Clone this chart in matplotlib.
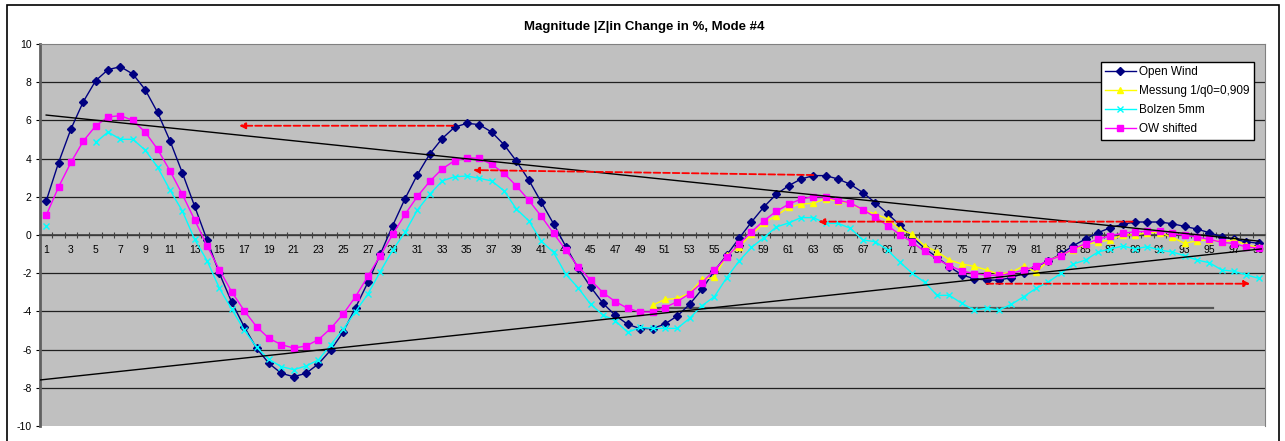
import numpy as np
import matplotlib.pyplot as plt
from matplotlib.patches import Rectangle

plt.rcParams['font.family'] = ['Liberation Sans', 'DejaVu Sans']
plt.rcParams['axes.unicode_minus'] = False

# Measurement points 1..99
points = np.arange(1, 100)

open_wind = [1.78, 3.79, 5.55, 6.98, 8.08, 8.66, 8.81, 8.43, 7.61, 6.42,
             4.94, 3.26, 1.50, -0.26, -2.01, -3.53, -4.80, -5.93, -6.72, -7.24,
             -7.42, -7.24, -6.75, -6.02, -5.08, -3.80, -2.48, -1.01, 0.49, 1.90,
             3.16, 4.24, 5.05, 5.64, 5.85, 5.78, 5.39, 4.73, 3.87, 2.88,
             1.73, 0.59, -0.61, -1.75, -2.72, -3.58, -4.21, -4.68, -4.90, -4.90,
             -4.66, -4.24, -3.63, -2.84, -1.88, -1.05, -0.17, 0.68, 1.47, 2.13,
             2.58, 2.93, 3.11, 3.11, 2.93, 2.65, 2.22, 1.69, 1.12, 0.51,
             -0.12, -0.70, -1.17, -1.66, -2.09, -2.29, -2.36, -2.36, -2.23, -2.01,
             -1.66, -1.35, -1.00, -0.56, -0.21, 0.12, 0.38, 0.56, 0.68, 0.68,
             0.68, 0.59, 0.45, 0.31, 0.12, -0.09, -0.23, -0.35, -0.44]

messung = [np.nan] * 49 + [
    -3.68, -3.37, -3.32, -3.05, -2.32, -2.22, -1.05, -0.61, 0.03, 0.61,
    1.01, 1.45, 1.62, 1.66, 1.90, 1.78, 1.66, 1.31, 1.10, 0.84,
    0.30, 0.03, -0.58, -0.87, -1.31, -1.52, -1.64, -1.83, -2.06, -1.95,
    -1.62, -1.95, -1.34, -1.05, -0.79, -0.49, -0.37, -0.26, 0.00, 0.00,
    0.12, 0.12, -0.12, -0.44, -0.30, -0.26, -0.35, -0.26, -0.52, -0.65]

bolzen = [0.47, np.nan, np.nan, np.nan, 4.85, 5.39, 5.01, 5.01, 4.45, 3.56,
          2.36, 1.26, -0.23, -1.34, -2.79, -3.89, -4.97, -5.88, -6.51, -6.89,
          -7.05, -6.86, -6.54, -5.74, -4.94, -4.01, -3.09, -1.92, -0.79, 0.14,
          1.31, 2.13, 2.83, 3.05, 3.09, 2.97, 2.83, 2.32, 1.36, 0.75,
          -0.31, -0.91, -2.06, -2.77, -3.63, -4.19, -4.49, -5.10, -4.83, -4.89,
          -4.89, -4.89, -4.36, -3.70, -3.23, -2.23, -1.36, -0.65, -0.14, 0.42,
          0.63, 0.91, 0.91, 0.61, 0.61, 0.35, -0.26, -0.35, -0.79, -1.43,
          -2.01, -2.48, -3.16, -3.16, -3.58, -3.93, -3.84, -3.93, -3.63, -3.23,
          -2.79, -2.45, -2.01, -1.52, -1.31, -0.89, -0.73, -0.58, -0.72, -0.61,
          -0.79, -0.89, -1.08, -1.31, -1.45, -1.83, -1.90, -2.09, -2.27]

ow_shifted = [1.03, 2.51, 3.80, 4.92, 5.71, 6.18, 6.25, 6.00, 5.39, 4.49,
              3.37, 2.13, 0.79, -0.56, -1.83, -2.98, -3.96, -4.80, -5.41, -5.74,
              -5.92, -5.81, -5.48, -4.89, -4.14, -3.23, -2.16, -1.08, 0.03, 1.08,
              2.02, 2.81, 3.46, 3.89, 4.05, 4.01, 3.70, 3.23, 2.57, 1.82,
              0.99, 0.09, -0.79, -1.66, -2.36, -3.02, -3.49, -3.84, -4.03, -4.03,
              -3.80, -3.49, -3.07, -2.50, -1.83, -1.15, -0.47, 0.17, 0.75, 1.24,
              1.61, 1.88, 2.01, 1.99, 1.82, 1.68, 1.33, 0.94, 0.49, 0.02,
              -0.38, -0.86, -1.26, -1.61, -1.88, -2.02, -2.11, -2.11, -2.02, -1.83,
              -1.64, -1.34, -1.08, -0.73, -0.45, -0.23, -0.03, 0.09, 0.17, 0.19,
              0.21, 0.09, -0.02, -0.10, -0.23, -0.38, -0.45, -0.63, -0.68]

# Hand drawn envelope lines (start, end) and shift arrows (tail, head)
envelope_lines = [((1, 6.28), (99, -0.32)), ((0.5, -7.59), (99.2, -0.73))]
level_line = ((50.3, -3.82), (95.3, -3.82))
shift_arrows = [((33.9, 5.72), (16.6, 5.72)),
                ((63.0, 3.14), (35.5, 3.40)),
                ((88.8, 0.70), (63.4, 0.70)),
                ((77.0, -2.55), (98.3, -2.55))]

fig = plt.figure(figsize=(12.85, 4.41), dpi=100)
fig.add_artist(Rectangle((7 / 1285, -0.05), 1272 / 1285, 1.05 - 5 / 441,
                         transform=fig.transFigure, fill=False,
                         edgecolor='black', linewidth=1.2))
ax = fig.add_axes([40 / 1285, 1 - 426 / 441, 1225 / 1285, 382 / 441])
ax.set_facecolor('#C0C0C0')

for yv in range(-8, 10, 2):
    ax.axhline(yv, color='#202020', linewidth=0.9, zorder=1)

ax.plot(points, open_wind, color='#000080', marker='D', markersize=3.8,
        linewidth=1, label='Open Wind', zorder=3)
ax.plot(points, messung, color='#FFFF00', marker='^', markersize=5,
        linewidth=1, label='Messung 1/q0=0,909', zorder=3)
ax.plot(points, bolzen, color='#00FFFF', marker='x', markersize=5,
        markeredgewidth=1, linewidth=1, label='Bolzen 5mm', zorder=3)
ax.plot(points, ow_shifted, color='#FF00FF', marker='s', markersize=4.5,
        linewidth=1, label='OW shifted', zorder=3)

for (x0, y0), (x1, y1) in envelope_lines:
    ax.plot([x0, x1], [y0, y1], color='black', linewidth=1, zorder=4)
ax.plot([level_line[0][0], level_line[1][0]], [level_line[0][1], level_line[1][1]],
        color='#555555', linewidth=1.6, zorder=2)
for (x0, y0), (x1, y1) in shift_arrows:
    ax.annotate('', xy=(x1, y1), xytext=(x0, y0),
                arrowprops=dict(arrowstyle='-|>', color='red', linestyle='--',
                                linewidth=1.3, mutation_scale=9,
                                shrinkA=0, shrinkB=0), zorder=5)

ax.set_xlim(0.5, 99.5)
ax.set_ylim(-10, 10)
ax.set_yticks(range(-10, 11, 2))
ax.tick_params(axis='y', direction='out', length=3, labelsize=7.5, pad=3)

ax.spines['bottom'].set_position(('data', 0))
ax.spines['bottom'].set_color('#404040')
ax.spines['bottom'].set_linewidth(1.2)
ax.spines['left'].set_color('#606060')
ax.spines['left'].set_linewidth(2)
ax.spines['top'].set_color('#808080')
ax.spines['right'].set_color('#808080')
ax.set_xticks(np.arange(0.5, 100, 1))
ax.set_xticklabels([])
ax.set_xticks(points[::2], minor=True)
ax.set_xticklabels([str(p) for p in points[::2]], minor=True)
ax.tick_params(axis='x', which='major', direction='inout', length=4,
               color='#404040')
ax.tick_params(axis='x', which='minor', length=0, labelsize=7.5, pad=7)

fig.text(644 / 1285, 1 - 27 / 441, 'Magnitude |Z|in Change in %, Mode #4',
         ha='center', va='center', fontsize=9.5, fontweight='bold')

leg = ax.legend(loc='upper right', bbox_to_anchor=(1254 / 1285, 1 - 62 / 441),
                bbox_transform=fig.transFigure, fontsize=8.5, frameon=True,
                fancybox=False, edgecolor='black', framealpha=1,
                borderpad=0.35, labelspacing=0.6, handlelength=2.6,
                handletextpad=0.3, borderaxespad=0)
leg.get_frame().set_linewidth(1)

fig.savefig('out.png', dpi=100)
